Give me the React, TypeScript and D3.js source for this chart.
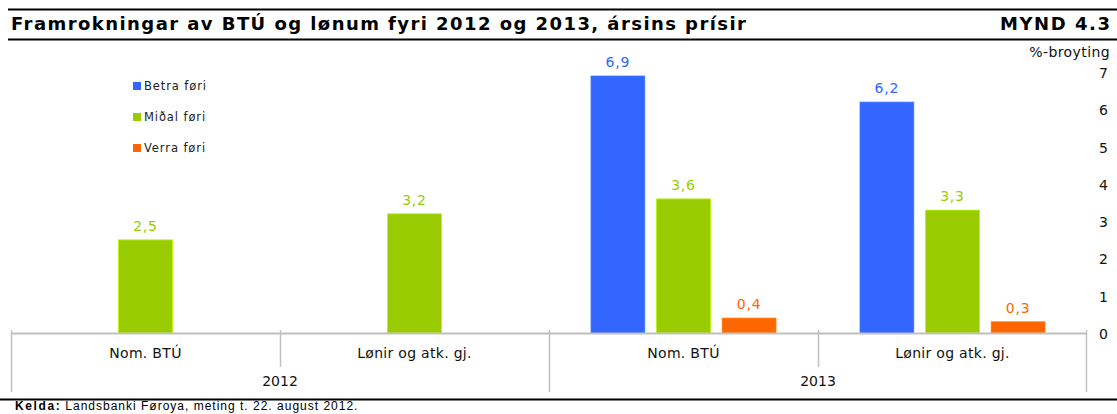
import React from "react";
import * as d3 from "d3";

const W = 1117;
const H = 414;

const years = ["2012", "2013"];
const categories = ["Nom. BTÚ", "Lønir og atk. gj."];
const seriesNames = ["Betra føri", "Miðal føri", "Verra føri"];
const seriesColors = ["#3366FF", "#99CC00", "#FF6600"];
// values per group (2012 Nom. BTÚ, 2012 Lønir, 2013 Nom. BTÚ, 2013 Lønir); null = missing
const betra: (number | null)[] = [null, null, 6.9, 6.2];
const midal: (number | null)[] = [2.5, 3.2, 3.6, 3.3];
const verra: (number | null)[] = [null, null, 0.4, 0.3];
const yTicks = [0, 1, 2, 3, 4, 5, 6, 7];

const title = "Framrokningar av BTÚ og lønum fyri 2012 og 2013, ársins prísir";
const figNo = "MYND 4.3";
const unitLabel = "%-broyting";
const sourceBold = "Kelda:";
const sourceText = "Landsbanki Føroya, meting t. 22. august 2012.";

const FONT = "'DejaVu Sans', Verdana, sans-serif";

export default function App() {
  const plotL = 11;
  const plotR = 1087;
  const y0 = 333;
  const groups = years.flatMap((yr) => categories.map((c) => `${yr}|${c}`));
  const x = d3.scaleBand<string>().domain(groups).range([plotL, plotR]).padding(0);
  const gw = x.bandwidth();
  const inner = d3
    .scaleBand<string>()
    .domain(seriesNames)
    .range([42, gw - 42])
    .paddingInner(0.18);
  const y = d3.scaleLinear().domain([0, 7]).range([y0, 72.3]);
  const seriesVals = [betra, midal, verra];

  const yearW = gw * categories.length;

  return (
    <svg width={W} height={H} style={{ position: "absolute", left: 0, top: 0 }}>
      <rect width={W} height={H} fill="#fff" />
      {/* title */}
      <line x1={8} x2={W} y1={9.5} y2={9.5} stroke="#000" strokeWidth={2.2} />
      <line x1={8} x2={W} y1={39.5} y2={39.5} stroke="#000" strokeWidth={2.2} />
      <text x={11} y={29.5} fontFamily={FONT} fontWeight="bold" fontSize={18} fill="#000" textLength={735} lengthAdjust="spacing">
        {title}
      </text>
      <text x={1000} y={29.5} fontFamily={FONT} fontWeight="bold" fontSize={18} fill="#000" textLength={110} lengthAdjust="spacing">
        {figNo}
      </text>

      {/* legend */}
      {seriesNames.map((s, i) => (
        <g key={s} transform={`translate(133, ${86 + i * 31})`}>
          <rect x={0} y={-4} width={8} height={8} fill={seriesColors[i]} />
          <text x={11} y={0} dy="0.35em" fontFamily={FONT} fontSize={11.5} fill="#222" letterSpacing={0.9}>
            {s}
          </text>
        </g>
      ))}

      {/* bars */}
      {groups.map((g, gi) =>
        seriesNames.map((s, si) => {
          const v = seriesVals[si][gi];
          if (v == null) return null;
          const bx = (x(g) as number) + (inner(s) as number);
          const bw = inner.bandwidth();
          return (
            <g key={g + s}>
              <rect
                x={bx}
                y={y(v)}
                width={bw}
                height={y0 - y(v)}
                fill={seriesColors[si]}
                stroke={d3.color(seriesColors[si])!.brighter(0.5).formatHex()}
                strokeWidth={0.8}
              />
              <text
                x={bx + bw / 2}
                y={y(v) - 9}
                textAnchor="middle"
                fontFamily={FONT}
                fontSize={14}
                letterSpacing={0.8}
                fill={seriesColors[si]}
              >
                {d3.format(".1f")(v).replace(".", ",")}
              </text>
            </g>
          );
        })
      )}

      {/* x axis */}
      <line x1={plotL} x2={plotR} y1={y0 + 0.5} y2={y0 + 0.5} stroke="#c0c0c0" strokeWidth={2} />
      {groups.map((g, gi) => (
        <line
          key={"t" + g}
          x1={(x(g) as number) + 0.5}
          x2={(x(g) as number) + 0.5}
          y1={y0 - 3}
          y2={gi % categories.length === 0 ? 392 : 367}
          stroke="#c0c0c0"
          strokeWidth={1.5}
        />
      ))}
      <line x1={plotR - 0.5} x2={plotR - 0.5} y1={y0 - 3} y2={392} stroke="#c0c0c0" strokeWidth={1.5} />
      {groups.map((g, gi) => (
        <text
          key={"c" + g}
          x={(x(g) as number) + gw / 2}
          y={353}
          dy="0.35em"
          textAnchor="middle"
          fontFamily={FONT}
          fontSize={14}
          letterSpacing={0.3}
          fill="#111"
        >
          {categories[gi % categories.length]}
        </text>
      ))}
      {years.map((yr, i) => (
        <text
          key={yr}
          x={plotL + yearW * i + yearW / 2}
          y={381}
          dy="0.35em"
          textAnchor="middle"
          fontFamily={FONT}
          fontSize={14}
          fill="#111"
        >
          {yr}
        </text>
      ))}

      {/* y axis labels */}
      {yTicks.map((t) => (
        <text
          key={t}
          x={1108}
          y={y(t) + 1}
          dy="0.35em"
          textAnchor="end"
          fontFamily={FONT}
          fontSize={14}
          fill="#111"
        >
          {t}
        </text>
      ))}
      <text x={1110} y={57} textAnchor="end" fontFamily={FONT} fontSize={14} letterSpacing={0.4} fill="#111">
        {unitLabel}
      </text>

      {/* footer */}
      <line x1={0} x2={W} y1={399.5} y2={399.5} stroke="#000" strokeWidth={2.2} />
      <text x={15} y={409.5} fontFamily="'Liberation Sans', Arial, sans-serif" fontSize={12} fill="#000">
        <tspan fontWeight="bold" letterSpacing={1.6}>{sourceBold}</tspan>
        <tspan dx={4} letterSpacing={1.0}>{sourceText}</tspan>
      </text>
    </svg>
  );
}
